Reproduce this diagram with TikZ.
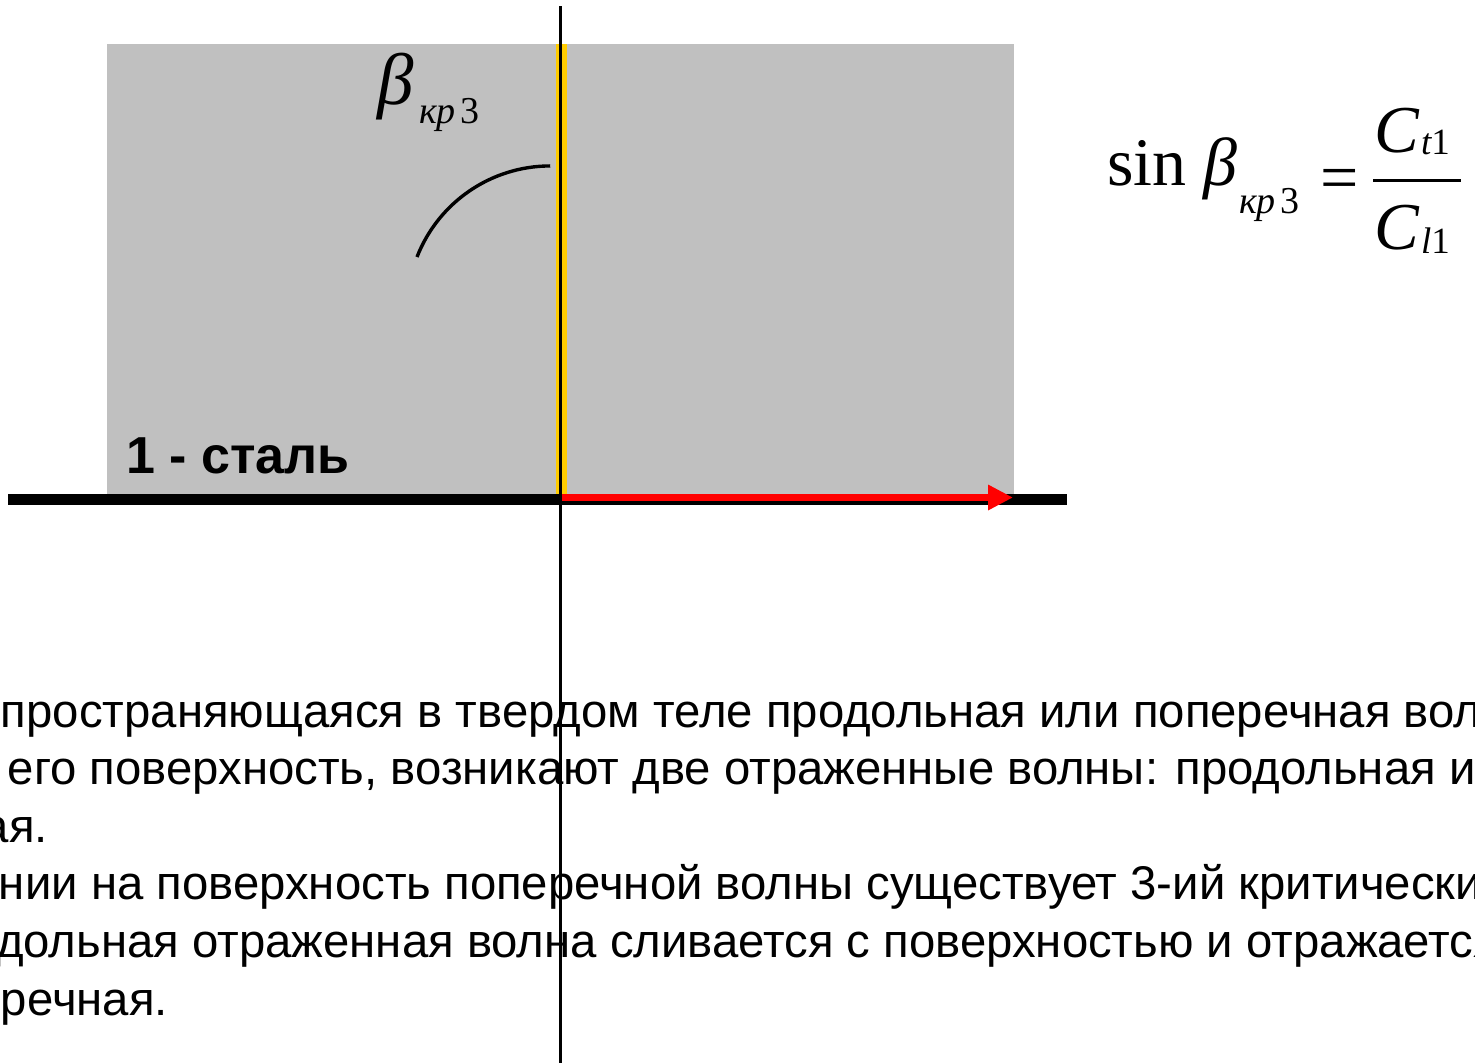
\documentclass[tikz,border=0pt]{standalone}
\usepackage{fontspec}
\setmainfont{Liberation Sans}
\newfontfamily\tnr{Liberation Serif}
\usetikzlibrary{arrows.meta}
\definecolor{steelgray}{HTML}{C0C0C0}
\definecolor{edgeyellow}{HTML}{FFCC00}
\definecolor{waveRed}{HTML}{FF0000}
\begin{document}
\begin{tikzpicture}[x=1pt,y=-1pt,
  txt/.style={anchor=base west, inner sep=0pt, outer sep=0pt, font=\fontsize{47.3}{57.6}\selectfont},
  lbl/.style={anchor=base west, inner sep=0pt, outer sep=0pt, font=\bfseries\fontsize{52}{56}\selectfont},
  mth/.style={anchor=base west, inner sep=0pt, outer sep=0pt, font=\tnr\fontsize{68}{70}\selectfont},
  msub/.style={anchor=base west, inner sep=0pt, outer sep=0pt, font=\tnr\fontsize{38}{40}\selectfont},
  frac/.style={anchor=base west, inner sep=0pt, outer sep=0pt, font=\tnr\fontsize{67}{70}\selectfont},
  fsub/.style={anchor=base west, inner sep=0pt, outer sep=0pt, font=\tnr\fontsize{37}{40}\selectfont},
]
\useasboundingbox (0,0) rectangle (1475,1063);
\clip (0,0) rectangle (1475,1063);
\fill[white] (0,0) rectangle (1475,1063);
% steel block
\fill[steelgray] (107,44) rectangle (1014,494);
% normal (yellow) line
\draw[edgeyellow, line width=11pt] (561,44) -- (561,494);
% surface
\draw[line width=11pt] (8,499.5) -- (1067,499.5);
% vertical axis
\coordinate (axTop) at (560.5,6);
\coordinate (axBot) at (560.5,1063);
\draw[line width=2.6pt] (axTop) -- (axBot);
% red reflected wave
\coordinate (src) at (562,497.5);
\coordinate (tip) at (1013,497.5);
\draw[waveRed, line width=7.5pt, -{Triangle[length=25pt,width=24pt]}] (src) -- (tip);
% angle arc
\draw[line width=3.4pt] (417,257) arc[start angle=201.3, end angle=270, radius=143];
% angle label
\node[mth, font=\tnr\itshape\fontsize{73}{75}\selectfont] (beta) at (377,104) {β};
\node[msub] (betasub) at (419,123) {{\itshape кр}\hspace{5pt}3};
% material label
\node[lbl] (steel) at (126,473) {1 - сталь};
% formula
\node[mth] (sin) at (1107,185) {sin};
\node[mth, font=\tnr\itshape\fontsize{68}{70}\selectfont] (fbeta) at (1203,185) {β};
\node[msub] (fbsub) at (1239,213) {{\itshape кр}\hspace{5pt}3};
\node[mth] (eq) at (1320,200) {=};
\draw[line width=3pt] (1373,180) -- (1461,180);
\node[frac] (ct) at (1374,152) {\itshape C};
\node[fsub] (cts) at (1421,154) {{\itshape t}1};
\node[frac] (cl) at (1374,249) {\itshape C};
\node[fsub] (cls) at (1421,253) {{\itshape l}1};
% text
\node[txt] (l1) at (1,727) {\llap{Если рас}пространяющаяся в твердом теле продольная или поперечная волна,};
\node[txt] (l2) at (8,784.6) {\llap{падая на }его поверхность, возникают две отраженные волны: продольная и};
\node[txt] (l3) at (9,842.2) {\llap{поперечна}я.};
\node[txt] (l4) at (-1,899.8) {\llap{При паде}нии на поверхность поперечной волны существует 3-ий критический};
\node[txt] (l5) at (-4,957.4) {\llap{при котором про}дольная отраженная волна сливается с поверхностью и отражается};
\node[txt] (l6) at (1,1015) {\llap{только попе}речная.};
\end{tikzpicture}
\end{document}
